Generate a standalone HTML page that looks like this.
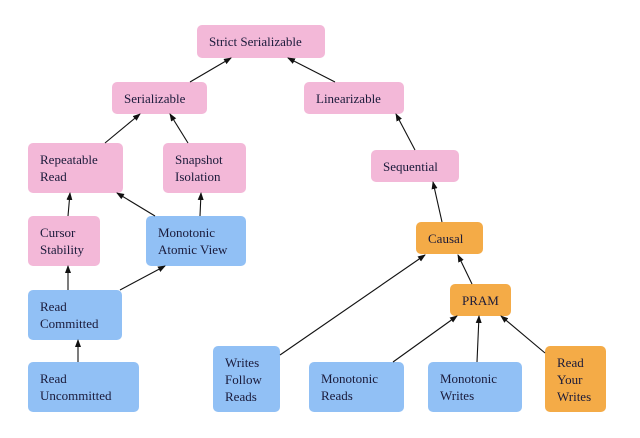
<!DOCTYPE html><html><head><style>
body{margin:0;background:#fff;width:640px;height:438px;overflow:hidden;position:relative;font-family:"Liberation Serif",serif;}
.b{position:absolute;border-radius:5px;box-sizing:border-box;padding-left:12px;display:flex;align-items:center;font-size:13px;line-height:17px;color:#1a1a3a}
.p{background:#f3b8d8}.u{background:#91c0f5}.o{background:#f4ab47}
svg{position:absolute;left:0;top:0}
</style></head><body>
<div class="b p" style="left:197px;top:25px;width:128px;height:33px">Strict Serializable</div>
<div class="b p" style="left:112px;top:82px;width:95px;height:32px">Serializable</div>
<div class="b p" style="left:304px;top:82px;width:100px;height:32px">Linearizable</div>
<div class="b p" style="left:28px;top:143px;width:95px;height:50px">Repeatable<br>Read</div>
<div class="b p" style="left:163px;top:143px;width:83px;height:50px">Snapshot<br>Isolation</div>
<div class="b p" style="left:371px;top:150px;width:88px;height:32px">Sequential</div>
<div class="b p" style="left:28px;top:216px;width:72px;height:50px">Cursor<br>Stability</div>
<div class="b u" style="left:146px;top:216px;width:100px;height:50px">Monotonic<br>Atomic View</div>
<div class="b o" style="left:416px;top:222px;width:67px;height:32px">Causal</div>
<div class="b u" style="left:28px;top:290px;width:94px;height:50px">Read<br>Committed</div>
<div class="b o" style="left:450px;top:284px;width:61px;height:32px">PRAM</div>
<div class="b u" style="left:28px;top:362px;width:111px;height:50px">Read<br>Uncommitted</div>
<div class="b u" style="left:213px;top:346px;width:67px;height:66px">Writes<br>Follow<br>Reads</div>
<div class="b u" style="left:309px;top:362px;width:95px;height:50px">Monotonic<br>Reads</div>
<div class="b u" style="left:428px;top:362px;width:94px;height:50px">Monotonic<br>Writes</div>
<div class="b o" style="left:545px;top:346px;width:61px;height:66px">Read<br>Your<br>Writes</div>
<svg width="640" height="438"><defs><marker id="a" markerWidth="8" markerHeight="8" refX="7" refY="4" orient="auto" markerUnits="userSpaceOnUse"><path d="M0,1 L8,4 L0,7z" fill="#111"/></marker></defs>
<g stroke="#111" stroke-width="1.1" marker-end="url(#a)">
<line x1="190" y1="82" x2="231" y2="58"/>
<line x1="335" y1="82" x2="288" y2="58"/>
<line x1="105" y1="143" x2="140" y2="114"/>
<line x1="188" y1="143" x2="170" y2="114"/>
<line x1="415" y1="150" x2="396" y2="114"/>
<line x1="442" y1="222" x2="433" y2="182"/>
<line x1="68" y1="216" x2="70" y2="193"/>
<line x1="155" y1="216" x2="117" y2="193"/>
<line x1="200" y1="216" x2="201" y2="193"/>
<line x1="68" y1="290" x2="68" y2="266"/>
<line x1="120" y1="290" x2="165" y2="266"/>
<line x1="78" y1="362" x2="78" y2="340"/>
<line x1="280" y1="355" x2="425" y2="255"/>
<line x1="472" y1="284" x2="458" y2="255"/>
<line x1="393" y1="362" x2="457" y2="316"/>
<line x1="477" y1="362" x2="479" y2="316"/>
<line x1="545" y1="353" x2="501" y2="316"/>
</g></svg>
</body></html>
